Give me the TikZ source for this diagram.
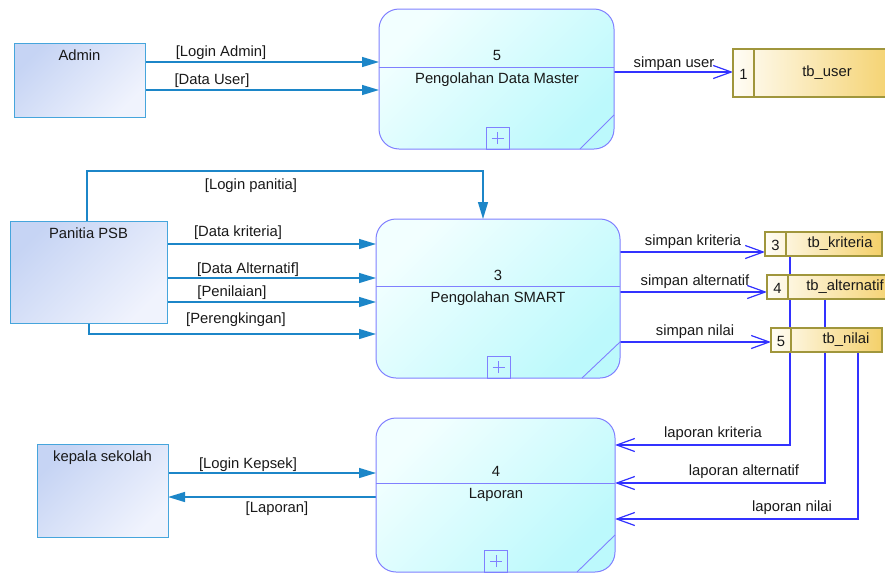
\documentclass[tikz,border=0pt]{standalone}
\usepackage{fontspec}
\setmainfont{Liberation Sans}
\usetikzlibrary{arrows.meta,calc}
\pgfdeclarelayer{bg}
\pgfsetlayers{bg,main}
\definecolor{eflow}{RGB}{28,134,200}
\definecolor{entb}{RGB}{70,165,220}
\definecolor{entA}{RGB}{198,212,244}
\definecolor{entB}{RGB}{240,243,253}
\definecolor{procb}{RGB}{128,128,255}
\definecolor{procA}{RGB}{242,255,255}
\definecolor{procB}{RGB}{188,249,252}
\definecolor{sflow}{RGB}{50,50,255}
\definecolor{storeb}{RGB}{160,150,60}
\definecolor{storeA}{RGB}{255,253,246}
\definecolor{storeB}{RGB}{244,208,105}
\definecolor{ink}{RGB}{25,25,25}
\begin{document}
\begin{tikzpicture}[x=1pt,y=-1pt,
  font=\fontsize{14.8}{17}\selectfont,
  txt/.style={inner sep=0pt, outer sep=0pt, text=ink},
  entity/.style={draw=entb, line width=1pt, top color=entA, bottom color=entB, shading angle=45, inner sep=0pt, outer sep=0pt},
  proc/.style={draw=procb, line width=1pt, rounded corners=20pt, top color=procA, bottom color=procB, shading angle=45, inner sep=0pt, outer sep=0pt},
  pline/.style={draw=procb, line width=0.9pt},
  plusbox/.style={draw=procb, line width=0.9pt, minimum width=23pt, minimum height=22pt, inner sep=0pt, outer sep=0pt},
  store/.style={draw=storeb, line width=1.1pt, left color=storeA, right color=storeB, inner sep=0pt, outer sep=0pt, minimum height=24pt},
  sline/.style={draw=storeb, line width=1.1pt},
  eflowline/.style={draw=eflow, line width=1.3pt, -{Triangle[length=17pt,width=10pt]}},
  sflowline/.style={draw=sflow, line width=1.2pt, -{Straight Barb[length=18pt,width=13pt]}}
]
\useasboundingbox (0,0) rectangle (885,576);

% external entities
\node[entity, minimum width=131pt, minimum height=74pt] (admin) at (79.5,80) {};
\node[txt, anchor=north] (adminT) at ([yshift=-7pt]admin.north) {Admin};
\node[entity, minimum width=157pt, minimum height=102pt] (panitia) at (88.5,272) {};
\node[txt, anchor=north] (panitiaT) at ([yshift=-7pt]panitia.north) {Panitia PSB};
\node[entity, minimum width=131pt, minimum height=93pt] (kepala) at (102.5,490.5) {};
\node[txt, anchor=north] (kepalaT) at ([yshift=-7pt]kepala.north) {kepala sekolah};

% processes
\node[proc, minimum width=235pt, minimum height=140pt] (p5) at (496.5,79) {};
\draw[pline] (p5.west |- 0,67) -- (p5.east |- 0,67);
\node[txt] (p5num) at (497,55) {5};
\node[txt] (p5name) at (497,80) {Pengolahan Data Master};
\node[plusbox] (p5plus) at (497.5,138) {};
\draw[pline] ([xshift=-6pt]p5plus.center) -- ([xshift=6pt]p5plus.center);
\draw[pline] ([yshift=-6pt]p5plus.center) -- ([yshift=6pt]p5plus.center);
\draw[pline] ([xshift=-34pt]p5.south east) -- ([yshift=34pt]p5.south east);

\node[proc, minimum width=244pt, minimum height=159pt] (p3) at (498,298.5) {};
\draw[pline] (p3.west |- 0,286) -- (p3.east |- 0,286);
\node[txt] (p3num) at (498,275) {3};
\node[txt] (p3name) at (498,299) {Pengolahan SMART};
\node[plusbox] (p3plus) at (498.5,367) {};
\draw[pline] ([xshift=-6pt]p3plus.center) -- ([xshift=6pt]p3plus.center);
\draw[pline] ([yshift=-6pt]p3plus.center) -- ([yshift=6pt]p3plus.center);
\draw[pline] ([xshift=-38pt]p3.south east) -- ([yshift=36pt]p3.south east);

\node[proc, minimum width=239pt, minimum height=154pt] (p4) at (495.5,495) {};
\draw[pline] (p4.west |- 0,483) -- (p4.east |- 0,483);
\node[txt] (p4num) at (496,471) {4};
\node[txt] (p4name) at (496,495) {Laporan};
\node[plusbox] (p4plus) at (496,561) {};
\draw[pline] ([xshift=-6pt]p4plus.center) -- ([xshift=6pt]p4plus.center);
\draw[pline] ([yshift=-6pt]p4plus.center) -- ([yshift=6pt]p4plus.center);
\draw[pline] ([xshift=-38pt]p4.south east) -- ([yshift=37pt]p4.south east);

% data stores
\node[store, minimum width=167pt, minimum height=48pt] (tbuser) at (816.5,73) {};
\draw[sline] (tbuser.north -| 754,0) -- (tbuser.south -| 754,0);
\node[txt] (tbuserN) at (743.5,74) {1};
\node[txt] (tbuserT) at (827,73) {tb\_user};

\node[store, minimum width=117pt] (tbkrit) at (823.5,244) {};
\draw[sline] (tbkrit.north -| 786,0) -- (tbkrit.south -| 786,0);
\node[txt] (tbkritN) at (775.5,245) {3};
\node[txt] (tbkritT) at (840,244) {tb\_kriteria};

\node[store, minimum width=133pt] (tbalt) at (833.5,287) {};
\draw[sline] (tbalt.north -| 788,0) -- (tbalt.south -| 788,0);
\node[txt] (tbaltN) at (777.5,288) {4};
\node[txt] (tbaltT) at (845,287) {tb\_alternatif};

\node[store, minimum width=111pt] (tbnilai) at (826.5,340) {};
\draw[sline] (tbnilai.north -| 791,0) -- (tbnilai.south -| 791,0);
\node[txt] (tbnilaiN) at (781,341) {5};
\node[txt] (tbnilaiT) at (846,340) {tb\_nilai};

% connectors
\begin{pgfonlayer}{bg}
\draw[eflowline] (admin.east |- 0,62) -- (p5.west |- 0,62);
\draw[eflowline] (admin.east |- 0,90) -- (p5.west |- 0,90);
\draw[eflowline] (panitia.north -| 87,0) -- (87,171) -| (p3.north -| 483,0);
\draw[eflowline] (panitia.east |- 0,244) -- (p3.west |- 0,244);
\draw[eflowline] (panitia.east |- 0,278) -- (p3.west |- 0,278);
\draw[eflowline] (panitia.east |- 0,302) -- (p3.west |- 0,302);
\draw[eflowline] (panitia.south -| 89,0) |- (p3.west |- 0,334);
\draw[eflowline] (kepala.east |- 0,473) -- (p4.west |- 0,473);
\draw[eflowline] (p4.west |- 0,497) -- (kepala.east |- 0,497);

\draw[sflowline] (p5.east |- 0,72) -- (tbuser.west |- 0,72);
\draw[sflowline] (p3.east |- 0,252) -- (tbkrit.west |- 0,252);
\draw[sflowline] (p3.east |- 0,292) -- (tbalt.west |- 0,292);
\draw[sflowline] (p3.east |- 0,342) -- (tbnilai.west |- 0,342);
\draw[sflowline] (tbkrit.south -| 790,0) |- (p4.east |- 0,445);
\draw[sflowline] (tbalt.south -| 825,0) |- (p4.east |- 0,483);
\draw[sflowline] (tbnilai.south -| 858,0) |- (p4.east |- 0,519);
\end{pgfonlayer}

% flow labels
\node[txt] (lLoginAdmin) at (221,53) {[Login Admin]};
\node[txt] (lDataUser) at (212,81) {[Data User]};
\node[txt] (lSimpanUser) at (674,64) {simpan user};
\node[txt] (lLoginPanitia) at (251,186) {[Login panitia]};
\node[txt] (lDataKrit) at (238,233) {[Data kriteria]};
\node[txt] (lDataAlt) at (248,270) {[Data Alternatif]};
\node[txt] (lPenilaian) at (232,293) {[Penilaian]};
\node[txt] (lPerengk) at (236,320) {[Perengkingan]};
\node[txt] (lSimpanKrit) at (693,242) {simpan kriteria};
\node[txt] (lSimpanAlt) at (695,282) {simpan alternatif};
\node[txt] (lSimpanNilai) at (695,332) {simpan nilai};
\node[txt] (lLapKrit) at (713,434) {laporan kriteria};
\node[txt] (lLapAlt) at (744,472) {laporan alternatif};
\node[txt] (lLapNilai) at (792,508) {laporan nilai};
\node[txt] (lLoginKepsek) at (248,465) {[Login Kepsek]};
\node[txt] (lLaporan) at (277,509) {[Laporan]};
\end{tikzpicture}
\end{document}
